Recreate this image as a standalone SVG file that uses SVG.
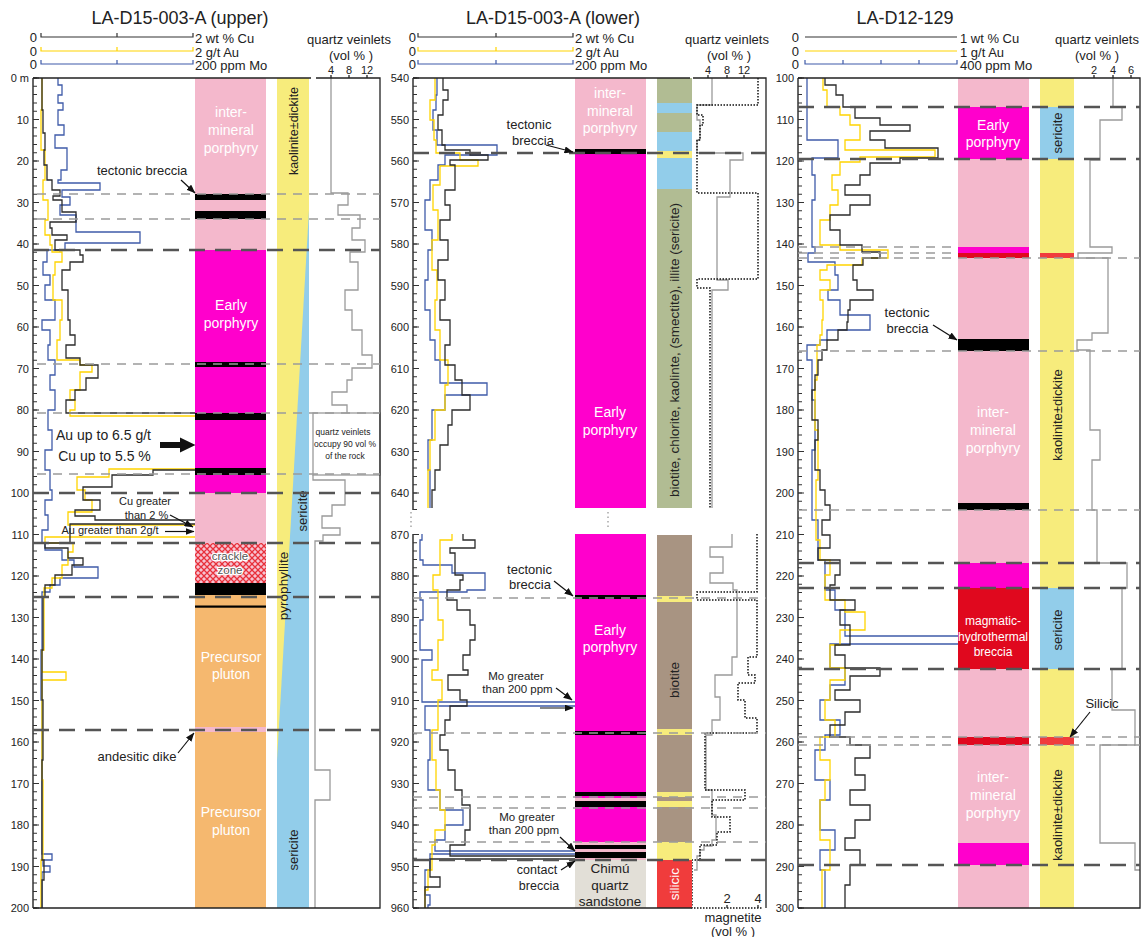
<svg xmlns="http://www.w3.org/2000/svg" width="1144" height="937" viewBox="0 0 1144 937">
<style>
text{font-family:"Liberation Sans",Arial,sans-serif;fill:#222}
.t{font-size:18px}
.h{font-size:13px}
.ax{font-size:11px}
.lab{font-size:13px}
.sm{font-size:11px}
.lw{font-size:14px;fill:#fff;text-anchor:middle}
.alt{font-size:13px;text-anchor:middle}
.m{text-anchor:middle}
.e{text-anchor:end}
.cu{fill:none;stroke:#2b2b2b;stroke-width:1.3}
.au{fill:none;stroke:#ffd400;stroke-width:1.3}
.mo{fill:none;stroke:#3f5ba9;stroke-width:1.3}
.qz{fill:none;stroke:#9a9a9a;stroke-width:1.3}
.mg{fill:none;stroke:#111;stroke-width:1.5;stroke-dasharray:1.5 1.5}
.thin{stroke:#9a9a9a;stroke-width:1.5;stroke-dasharray:9 7;fill:none}
.thick{stroke:#555;stroke-width:2.6;stroke-dasharray:16 10;fill:none}
.axis{stroke:#333;stroke-width:1.5;fill:none}
.frame{stroke:#222;stroke-width:1.3;fill:none}
.arr{stroke:#111;stroke-width:1.2;fill:none;marker-end:url(#ah)}
.pk{fill:#f4b8cc}.mag{fill:#ff00cc}.blk{fill:#000}.org{fill:#f5b86f}
.yel{fill:#f7ec7c}.blu{fill:#92cdea}.grn{fill:#b1bc93}.brn{fill:#a89482}
.red{fill:#e0081e}.red2{fill:#f03c3c}.snd{fill:#e2dfd7}
</style>
<defs>
<marker id="ah" markerWidth="9" markerHeight="7" refX="8.5" refY="3.5" orient="auto" markerUnits="userSpaceOnUse"><path d="M0,0 L9,3.5 L0,7 z" fill="#111"/></marker>
<pattern id="crackle" width="6" height="6" patternUnits="userSpaceOnUse"><rect width="6" height="6" fill="#f6c4d2"/><path d="M0 0L6 6M6 0L0 6M-3 3L3 9M3 -3L9 3M3 9L9 3M-3 3L3 -3" stroke="#e8303a" stroke-width="1.3"/></pattern>
</defs>
<rect width="1144" height="937" fill="#fff"/>

<!-- ================= PANEL 1 ================= -->
<g id="panel1">
<text class="t m" x="180" y="24">LA-D15-003-A (upper)</text>
<g id="p1-scales">
<text class="h e" x="37" y="42">0</text><text class="h e" x="37" y="56">0</text><text class="h e" x="37" y="69">0</text>
<path d="M41 33V37H193V33M117 33V37" stroke="#333" stroke-width="1.2" fill="none"/>
<path d="M41 47V51H193V47M117 47V51" stroke="#ffd400" stroke-width="1.2" fill="none"/>
<path d="M41 60V64H193V60M117 60V64" stroke="#3f5ba9" stroke-width="1.2" fill="none"/>
<text class="h" x="195" y="43">2 wt % Cu</text>
<text class="h" x="195" y="57">2 g/t Au</text>
<text class="h" x="195" y="70">200 ppm Mo</text>
<text class="h m" x="349" y="44">quartz veinlets</text>
<text class="h m" x="351" y="60">(vol % )</text>
<text class="ax m" x="331" y="74">4</text><text class="ax m" x="349" y="74">8</text><text class="ax m" x="367" y="74">12</text>
</g>
<g id="p1-curves">
<path class="mo" d="M58 78V85H62V95H58V103H63V110H58V125H64V135H55V148H67V170H61V180H58V183H100V190H62V197H70V205H60V215H76V232H140V243H65V250H47V262H43V275H50V285H45V300H55V320H42V330H50V345H48V360H55V375H50V390H55V410H48V430H52V450H45V470H50V490H52V500H45V515H48V530H42V543H45V550H62V560H74V567H98V578H60V585H50V592H42V650H41V700H42V854H52V860H43V866H50V872H42V908"/>
<path class="au" d="M42 78V110H41V150H45V180H43V200H48V220H45V235H50V245H52V252H62V262H55V275H53V300H62V320H60V340H57V360H80V365H92V372H80V390H70V400H75V410H70V416H200V469H109V477H77V490H85V500H92V512H68V525H196V537H45V543H73V552H68V565H62V578H52V588H44V650H42V672H66V680H42V780H43V860H41V908"/>
<path class="cu" d="M42 78V110H43V133H45V150H44V165H47V180H52V190H60V196H53V200H62V212H76V222H50V228H52V235H67V240H55V250H80V255H83V262H70V270H62V290H68V320H70V335H75V345H66V358H80V365H98V378H86V390H75V400H66V413H200V470H153V475H112V487H83V500H100V510H75V516H95V520H196V524H70V543H45V548H68V558H83V565H72V575H55V585H45V597H43V650H42V700H43V760H42V860H44V880H42V908"/>
<path class="qz" d="M331 78V193H348V205H338V215H360V228H352V240H365V252H350V262H358V290H345V310H352V330H362V355H372V368H352V380H347V392H332V405H347V413"/>
<rect x="313" y="413" width="67" height="62" fill="none" stroke="#9a9a9a" stroke-width="1.3"/>
<path class="qz" d="M313 475V480H345V505H332V516H322V528H340V535H323V541H315V770H330V800H315V908"/>
</g>
<g id="p1-litho">
<rect class="pk" x="195" y="78" width="71" height="172"/>
<rect class="blk" x="195" y="194" width="71" height="6"/>
<rect class="blk" x="195" y="211" width="71" height="8"/>
<rect class="mag" x="195" y="250" width="71" height="243"/>
<rect class="blk" x="195" y="362" width="71" height="5"/>
<rect class="blk" x="195" y="413" width="71" height="7"/>
<rect class="blk" x="195" y="468" width="71" height="7"/>
<rect class="pk" x="195" y="493" width="71" height="50"/>
<rect fill="url(#crackle)" x="195" y="543" width="71" height="40"/>
<rect class="blk" x="195" y="583" width="71" height="12"/>
<rect class="org" x="195" y="595" width="71" height="313"/>
<rect class="blk" x="195" y="605.5" width="71" height="2.2"/>
<rect class="pk" x="195" y="727" width="71" height="5"/>
<text class="lw" x="231" y="117">inter-</text>
<text class="lw" x="231" y="135">mineral</text>
<text class="lw" x="231" y="153">porphyry</text>
<text class="lw" x="231" y="310">Early</text>
<text class="lw" x="231" y="328">porphyry</text>
<text x="230" y="560" class="m" style="font-size:11.5px;fill:#555;stroke:#fff;stroke-width:2.5;paint-order:stroke">crackle</text>
<text x="230" y="574" class="m" style="font-size:11.5px;fill:#555;stroke:#fff;stroke-width:2.5;paint-order:stroke">zone</text>
<text class="lw" x="231" y="662">Precursor</text>
<text class="lw" x="231" y="679">pluton</text>
<text class="lw" x="231" y="817">Precursor</text>
<text class="lw" x="231" y="835">pluton</text>
</g>
<g id="p1-alteration">
<rect class="yel" x="277" y="78" width="32" height="830"/>
<polygon class="blu" points="309,210 309,908 277,908 277,760"/>
<text class="alt" transform="translate(297.5,131) rotate(-90)" style="font-size:12.5px">kaolinite±dickite</text>
<text class="alt" transform="translate(306.5,511) rotate(-90)">sericite</text>
<text class="alt" transform="translate(288,586) rotate(-90)" style="font-size:13.5px">pyrophyllite</text>
<text class="alt" transform="translate(297.5,850) rotate(-90)">sericite</text>
</g>
<g id="p1-axis">
<path class="axis" d="M33 78V908"/>
<line x1="35" y1="77.5" x2="35" y2="909" stroke="#333" stroke-width="4" stroke-dasharray="1 7.3"/>
<line x1="36" y1="77.4" x2="36" y2="909" stroke="#333" stroke-width="6" stroke-dasharray="1.2 40.3"/>
<path class="frame" d="M33 78H311M316 78H380V908H33M331 75V78M349 75V78M367 75V78"/>
<text class="ax e" x="29" y="82">0 m</text><text class="ax e" x="29" y="123.5">10</text><text class="ax e" x="29" y="165">20</text><text class="ax e" x="29" y="206.5">30</text><text class="ax e" x="29" y="248">40</text><text class="ax e" x="29" y="289.5">50</text><text class="ax e" x="29" y="331">60</text><text class="ax e" x="29" y="372.5">70</text><text class="ax e" x="29" y="414">80</text><text class="ax e" x="29" y="455.5">90</text><text class="ax e" x="29" y="497">100</text><text class="ax e" x="29" y="538.5">110</text><text class="ax e" x="29" y="580">120</text><text class="ax e" x="29" y="621.5">130</text><text class="ax e" x="29" y="663">140</text><text class="ax e" x="29" y="704.5">150</text><text class="ax e" x="29" y="746">160</text><text class="ax e" x="29" y="787.5">170</text><text class="ax e" x="29" y="829">180</text><text class="ax e" x="29" y="870.5">190</text><text class="ax e" x="29" y="912">200</text>
</g>
<g id="p1-dashes">
<path class="thin" d="M37 194H380M37 219H380M37 364H380M37 413H380M37 474H380"/>
<path class="thick" d="M33 250H380M33 493H380M33 543H380M33 597H380M33 730H380"/>
</g>
<g id="p1-labels">
<text class="lab" x="97" y="175">tectonic breccia</text>
<path class="arr" d="M181 180L195 193"/>
<text x="103.5" y="440" class="m" style="font-size:14px">Au up to 6.5 g/t</text>
<text x="104.5" y="461" class="m" style="font-size:14px">Cu up to 5.5 %</text>
<path d="M160 442H180V437.5L195.5 445L180 452.5V448H160Z" fill="#111"/>
<text class="sm m" x="145" y="505">Cu greater</text>
<text class="sm m" x="146.5" y="519">than 2 %</text>
<path class="arr" d="M170 515L193 527"/>
<text class="sm m" x="110" y="534">Au greater than 2g/t</text>
<path class="arr" d="M165 531.5H194"/>
<text class="lab m" x="137" y="761">andesitic dike</text>
<path class="arr" d="M178 753L194 733"/>
<text x="343" y="435" class="m" style="font-size:8.5px">quartz veinlets</text>
<text x="345" y="447" class="m" style="font-size:8.5px">occupy 90 vol %</text>
<text x="345" y="459" class="m" style="font-size:8.5px">of the rock</text>
</g>
</g>

<!-- ================= PANEL 2 ================= -->
<g id="panel2">
<text class="t m" x="553" y="24">LA-D15-003-A (lower)</text>
<g id="p2-scales">
<text class="h e" x="416" y="42">0</text><text class="h e" x="416" y="56">0</text><text class="h e" x="416" y="69">0</text>
<path d="M418 33V37H573V33M496 33V37" stroke="#333" stroke-width="1.2" fill="none"/>
<path d="M418 47V51H573V47M496 47V51" stroke="#ffd400" stroke-width="1.2" fill="none"/>
<path d="M418 60V64H573V60M496 60V64" stroke="#3f5ba9" stroke-width="1.2" fill="none"/>
<text class="h" x="575" y="43">2 wt % Cu</text>
<text class="h" x="575" y="57">2 g/t Au</text>
<text class="h" x="575" y="70">200 ppm Mo</text>
<text class="h m" x="727" y="44">quartz veinlets</text>
<text class="h m" x="729" y="60">(vol % )</text>
<text class="ax m" x="708" y="74">4</text><text class="ax m" x="727" y="74">8</text><text class="ax m" x="744" y="74">12</text>
</g>
<g id="p2-curves">
<path class="mo" d="M437 78V95H436V110H433V130H437V145H497V155H445V165H438V180H430V200H425V230H432V250H428V280H425V310H430V340H435V360H440V383H487V395H445V410H432V440H428V470H430V508"/>
<path class="au" d="M435 78V100H430V120H434V140H436V153H460V160H478V166H440V185H433V210H438V240H432V270H437V300H435V330H440V360H448V385H445V410H435V440H430V470H428V508"/>
<path class="cu" d="M443 78V90H448V100H443V115H438V130H442V145H445V150H470V155H488V160H450V165H455V190H445V205H450V220H440V240H448V260H438V280H445V300H440V320H450V345H445V365H455V380H462V395H470V410H452V425H448V445H440V470H435V490H432V508"/>
<path class="mo" d="M422 534V540H420V560H423V565H452V573H485V590H467V592H420V600H423V620H420V650H432V660H422V702H577V706H425V730H430V760H428V790H440V810H463V825H445V840H435V851H577V854H430V870H425V895H430V905H428V908"/>
<path class="au" d="M452 534V540H440V575H433V590H438V620H443V640H438V670H432V680H442V700H438V730H432V760H436V790H440V810H445V830H435V845H432V870H428V890H425V908"/>
<path class="cu" d="M463 534V540H475V548H450V553H455V575H463V580H460V590H447V600H457V610H470V625H475V640H470V655H463V670H468V675H448V690H460V700H467V706H450V720H445V735H440V750H448V770H455V790H462V805H470V830H465V845H450V856H577V859H430V877H440V887H425V908"/>
<path class="qz" d="M712 78V105H697V120H700V140H697V153H743V160H730V197H717V280H728V290H712V508"/>
<path class="mg" d="M758 78V105H697V115H703V125H700V140H697V193H758V279H697V288H710V508"/>
<path class="qz" d="M732 534V547H710V557H723V573H710V583H733V590H737V657H732V675H715V697H720V720H712V735H706V790H712V815H716V840H712V846H704V850H700V856H697V870H694"/>
<path class="mg" d="M757 534V592H697V600H757V657H748V675H755V683H738V700H745V718H757V733H705V790H745V800H712V817H730V832H717V845H700V860H692V908H762"/>
</g>
<g id="p2-litho">
<rect class="pk" x="575" y="78" width="71" height="72"/>
<rect class="blk" x="575" y="149" width="71" height="5"/>
<rect class="mag" x="575" y="154" width="71" height="354"/>
<text class="lw" x="610" y="98">inter-</text>
<text class="lw" x="610" y="116">mineral</text>
<text class="lw" x="610" y="133">porphyry</text>
<text class="lw" x="610" y="417">Early</text>
<text class="lw" x="610" y="435">porphyry</text>
<rect class="mag" x="575" y="534" width="71" height="326"/>
<rect class="blk" x="575" y="595" width="71" height="4"/>
<rect class="blk" x="575" y="731" width="71" height="4"/>
<rect class="blk" x="575" y="792" width="71" height="4"/>
<rect class="pk" x="575" y="798" width="71" height="3"/>
<rect class="blk" x="575" y="801" width="71" height="6"/>
<rect class="pk" x="575" y="842" width="71" height="18"/>
<rect class="blk" x="575" y="845" width="71" height="4"/>
<rect class="blk" x="575" y="852" width="71" height="6"/>
<rect class="snd" x="575" y="860" width="71" height="48"/>
<text class="lw" x="610" y="635">Early</text>
<text class="lw" x="610" y="652">porphyry</text>
<text x="610" y="873" class="m" style="font-size:13.5px">Chimú</text>
<text x="610" y="890" class="m" style="font-size:13.5px">quartz</text>
<text x="610" y="906" class="m" style="font-size:13.5px">sandstone</text>
<path d="M608 512V530" stroke="#999" stroke-width="1.3" stroke-dasharray="1.5 3"/>
</g>
<g id="p2-alteration">
<rect class="grn" x="657" y="78" width="35" height="430"/>
<rect class="blu" x="657" y="103" width="35" height="10"/>
<rect class="blu" x="657" y="132" width="35" height="19"/>
<rect class="yel" x="657" y="151" width="35" height="7"/>
<rect class="blu" x="657" y="158" width="35" height="31"/>
<text transform="translate(679,350) rotate(-90)" class="m" style="font-size:13.5px">biotite, chlorite, kaolinte, (smectite), illite (sericite)</text>
<rect class="brn" x="657" y="535" width="35" height="325"/>
<rect class="yel" x="657" y="596" width="35" height="6"/>
<rect class="yel" x="657" y="729" width="35" height="6"/>
<rect class="yel" x="657" y="792" width="35" height="5"/>
<rect class="yel" x="657" y="801" width="35" height="6"/>
<rect class="yel" x="657" y="842" width="35" height="18"/>
<rect class="red2" x="657" y="860" width="35" height="48"/>
<text transform="translate(679,680) rotate(-90)" class="m" style="font-size:13.5px">biotite</text>
<text transform="translate(679,884) rotate(-90)" class="m" style="font-size:13.5px;fill:#fff">silicic</text>
</g>
<g id="p2-axis">
<path class="axis" d="M413 78V510M413 534V908"/>
<line x1="415" y1="77.5" x2="415" y2="510" stroke="#333" stroke-width="4" stroke-dasharray="1 7.3"/>
<line x1="416" y1="77.4" x2="416" y2="510" stroke="#333" stroke-width="6" stroke-dasharray="1.2 40.3"/>
<line x1="415" y1="534" x2="415" y2="909" stroke="#333" stroke-width="4" stroke-dasharray="1 7.3"/>
<line x1="416" y1="533.9" x2="416" y2="909" stroke="#333" stroke-width="6" stroke-dasharray="1.2 40.3"/>
<path d="M411 512V530" stroke="#999" stroke-width="1.3" stroke-dasharray="1.5 3"/>
<path class="frame" d="M413 78H690M693 78H766V908M413 908H692M708 75V78M727 75V78M744 75V78M727 905V908M758 905V908"/>
<text class="ax e" x="409" y="82">540</text><text class="ax e" x="409" y="123.5">550</text><text class="ax e" x="409" y="165">560</text><text class="ax e" x="409" y="206.5">570</text><text class="ax e" x="409" y="248">580</text><text class="ax e" x="409" y="289.5">590</text><text class="ax e" x="409" y="331">600</text><text class="ax e" x="409" y="372.5">610</text><text class="ax e" x="409" y="414">620</text><text class="ax e" x="409" y="455.5">630</text><text class="ax e" x="409" y="497">640</text>
<text class="ax e" x="409" y="538.5">870</text><text class="ax e" x="409" y="580">880</text><text class="ax e" x="409" y="621.5">890</text><text class="ax e" x="409" y="663">900</text><text class="ax e" x="409" y="704.5">910</text><text class="ax e" x="409" y="746">920</text><text class="ax e" x="409" y="787.5">930</text><text class="ax e" x="409" y="829">940</text><text class="ax e" x="409" y="870.5">950</text><text class="ax e" x="409" y="912">960</text>
<text class="h m" x="727" y="903">2</text><text class="h m" x="758" y="903">4</text>
<text class="h m" x="733" y="922">magnetite</text>
<text class="h m" x="733" y="936">(vol % )</text>
</g>
<g id="p2-dashes">
<path class="thin" d="M413 598H766M413 733H766M413 797H766M413 808H766M413 842H766"/>
<path class="thick" d="M413 153H766M413 860H766"/>
</g>
<g id="p2-labels">
<text class="lab m" x="529" y="129">tectonic</text>
<text class="lab m" x="533" y="145">breccia</text>
<path class="arr" d="M546 145L573 152"/>
<text class="lab m" x="529.5" y="574">tectonic</text>
<text class="lab m" x="530" y="589">breccia</text>
<path class="arr" d="M554 581L573 596"/>
<text x="516" y="680" class="m" style="font-size:11.5px">Mo greater</text>
<text x="517.5" y="693" class="m" style="font-size:11.5px">than 200 ppm</text>
<path class="arr" d="M556 688L572 700"/>
<path class="arr" d="M540 708H573"/>
<text x="527" y="821" class="m" style="font-size:11.5px">Mo greater</text>
<text x="524" y="834" class="m" style="font-size:11.5px">than 200 ppm</text>
<path class="arr" d="M560 837L575 851"/>
<text x="537" y="874" class="m" style="font-size:12.5px">contact</text>
<text x="539" y="890" class="m" style="font-size:12.5px">breccia</text>
<path class="arr" d="M561 870L575 861"/>
</g>
</g>

<!-- ================= PANEL 3 ================= -->
<g id="panel3">
<text class="t m" x="905" y="24">LA-D12-129</text>
<g id="p3-scales">
<text class="h e" x="799" y="42">0</text><text class="h e" x="799" y="56">0</text><text class="h e" x="799" y="69">0</text>
<path d="M805 37H957" stroke="#333" stroke-width="1.2"/>
<path d="M805 51H957" stroke="#ffd400" stroke-width="1.2"/>
<path d="M805 60V64H957V60M843 60V64M881 60V64M919 60V64" stroke="#3f5ba9" stroke-width="1.2" fill="none"/>
<text class="h" x="960" y="43">1 wt % Cu</text>
<text class="h" x="960" y="57">1 g/t Au</text>
<text class="h" x="960" y="70">400 ppm Mo</text>
<text class="h m" x="1097" y="44">quartz veinlets</text>
<text class="h m" x="1097" y="60">(vol % )</text>
<text class="ax m" x="1094" y="74">2</text><text class="ax m" x="1113" y="74">4</text><text class="ax m" x="1131" y="74">6</text>
</g>
<g id="p3-curves">
<path class="mo" d="M807 78V140H838V158H812V175H815V200H812V247H815V253H808V262H835V275H838V290H828V300H840V315H870V330H827V340H820V345H807V360H812V400H815V450H812V520H818V560H825V590H835V610H845V636H959V644H830V668H845V685H830V700H820V720H840V735H825V750H815V780H830V800H820V830H835V850H820V870H825V908"/>
<path class="au" d="M823 78V90H827V107H840V115H850V125H860V140H845V150H935V157H860V162H840V175H832V190H838V205H830V220H820V245H840V250H888V258H862V265H827V270H820V280H830V290H820V300H823V320H822V335H820V345H817V380H815V430H818V480H816V540H820V560H830V575H825V600H845V612H865V630H840V645H830V668H845V680H830V700H825V720H835V737H820V760H830V780H825V800H820V840H830V870H822V908"/>
<path class="cu" d="M825 78V85H836V95H843V107H855V118H880V125H910V131H870V140H885V148H938V158H900V163H870V175H860V185H845V195H870V205H850V215H830V230H840V245H862V252H880V258H863V265H853V280H857V290H873V300H850V310H848V322H847V330H838V340H827V350H822V360H818V375H815V390H812V420H818V440H815V470H820V490H825V505H830V520H822V535H830V548H818V560H840V575H835V585H830V600H855V610H840V625H850V645H835V655H845V668H880V676H850V690H835V700H860V712H845V725H830V737H850V745H870V758H855V775H865V790H850V805H870V820H855V838H845V850H860V865H850V885H845V908"/>
<path class="qz" d="M1113 78V107H1122V120H1100V160H1090V247H1112V253H1078V258H1108V333H1092V340H1077V350H1090V430H1100V460H1092V510H1097V563H1127V588H1122V669H1112V710H1135V745H1100V843H1135V870H1140"/>
</g>
<g id="p3-litho">
<rect class="pk" x="958" y="78" width="71" height="830"/>
<rect class="mag" x="958" y="107" width="71" height="52"/>
<rect class="mag" x="958" y="247" width="71" height="6"/>
<rect class="red" x="958" y="253" width="71" height="5"/>
<rect class="blk" x="958" y="339" width="71" height="12"/>
<rect class="blk" x="958" y="503" width="71" height="7"/>
<rect class="mag" x="958" y="563" width="71" height="25"/>
<rect class="red" x="958" y="588" width="71" height="81"/>
<rect class="red" x="958" y="737" width="71" height="8"/>
<rect class="mag" x="958" y="843" width="71" height="22"/>
<text class="lw" x="993" y="130">Early</text>
<text class="lw" x="993" y="147">porphyry</text>
<text class="lw" x="993" y="417">inter-</text>
<text class="lw" x="993" y="435">mineral</text>
<text class="lw" x="993" y="453">porphyry</text>
<text x="993" y="625" class="m" style="font-size:12px;fill:#fff">magmatic-</text>
<text x="993" y="641" class="m" style="font-size:12px;fill:#fff">hydrothermal</text>
<text x="993" y="656" class="m" style="font-size:12px;fill:#fff">breccia</text>
<text class="lw" x="993" y="782">inter-</text>
<text class="lw" x="993" y="800">mineral</text>
<text class="lw" x="993" y="818">porphyry</text>
</g>
<g id="p3-alteration">
<rect class="yel" x="1040" y="78" width="34" height="830"/>
<rect class="blu" x="1040" y="107" width="34" height="52"/>
<rect class="red2" x="1040" y="253" width="34" height="5"/>
<rect class="blu" x="1040" y="588" width="34" height="81"/>
<rect class="red2" x="1040" y="737" width="34" height="8"/>
<text class="alt" transform="translate(1061.5,133) rotate(-90)">sericite</text>
<text class="alt" transform="translate(1061.5,415) rotate(-90)">kaolinite±dickite</text>
<text class="alt" transform="translate(1061.5,630) rotate(-90)">sericite</text>
<text class="alt" transform="translate(1061.5,815) rotate(-90)">kaolinite±dickite</text>
</g>
<g id="p3-axis">
<path class="axis" d="M798 78V908"/>
<line x1="800" y1="77.5" x2="800" y2="909" stroke="#333" stroke-width="4" stroke-dasharray="1 7.3"/>
<line x1="801" y1="77.4" x2="801" y2="909" stroke="#333" stroke-width="6" stroke-dasharray="1.2 40.3"/>
<path class="frame" d="M798 78H1140V908H798M1094 75V78M1113 75V78M1131 75V78"/>
<text class="ax e" x="794" y="82">100</text><text class="ax e" x="794" y="123.5">110</text><text class="ax e" x="794" y="165">120</text><text class="ax e" x="794" y="206.5">130</text><text class="ax e" x="794" y="248">140</text><text class="ax e" x="794" y="289.5">150</text><text class="ax e" x="794" y="331">160</text><text class="ax e" x="794" y="372.5">170</text><text class="ax e" x="794" y="414">180</text><text class="ax e" x="794" y="455.5">190</text><text class="ax e" x="794" y="497">200</text><text class="ax e" x="794" y="538.5">210</text><text class="ax e" x="794" y="580">220</text><text class="ax e" x="794" y="621.5">230</text><text class="ax e" x="794" y="663">240</text><text class="ax e" x="794" y="704.5">250</text><text class="ax e" x="794" y="746">260</text><text class="ax e" x="794" y="787.5">270</text><text class="ax e" x="794" y="829">280</text><text class="ax e" x="794" y="870.5">290</text><text class="ax e" x="794" y="912">300</text>
</g>
<g id="p3-dashes">
<path class="thin" d="M798 247H958M798 253H958M798 258H1140M798 351H1140M798 510H1140M798 737H1140M798 745H1140"/>
<path class="thick" d="M798 107H1140M798 159H1140M798 563H1140M798 588H1140M798 669H1140M798 865H1140"/>
</g>
<g id="p3-labels">
<text class="lab m" x="907" y="317">tectonic</text>
<text class="lab m" x="907.5" y="333">breccia</text>
<path class="arr" d="M933 325L957 340"/>
<text class="lab m" x="1102" y="708">Silicic</text>
<path class="arr" d="M1090 712L1070 737"/>
</g>
</g>
</svg>
